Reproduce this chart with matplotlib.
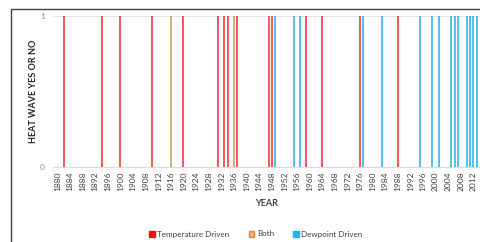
import matplotlib
matplotlib.use("Agg")
import matplotlib.pyplot as plt
from matplotlib.patches import Patch, Rectangle

temp_years = [1882, 1894, 1900, 1910, 1920, 1931, 1933, 1934, 1937, 1947, 1948, 1959, 1964, 1976, 1988]
both_years = [1916, 1936]
dew_years = [1949, 1955, 1957, 1977, 1983, 1995, 1999, 2001, 2005, 2006, 2007, 2010, 2011, 2012, 2013]
tick_years = list(range(1880, 2013, 4))
series_labels = ["Temperature Driven", "Both", "Dewpoint Driven"]

plt.rcParams['font.family'] = ['Lato', 'DejaVu Sans']

fig = plt.figure(figsize=(4.81, 2.42), dpi=100)
fig.patch.set_facecolor('white')
ax = fig.add_axes([53/481, 1-167/242, 1-53/481, (167-15.7)/242])

c_temp = '#F22A2A'
c_both = '#C49A58'
c_dew = '#22B2EA'
lw = 1.1
ax.vlines(temp_years, 0, 1, colors=c_temp, linewidth=lw, zorder=3)
ax.vlines(both_years, 0, 1, colors=c_both, linewidth=lw, zorder=3)
ax.vlines(dew_years, 0, 1, colors=c_dew, linewidth=lw, zorder=3)

ax.set_xlim(1878.6, 2014.4)
ax.set_ylim(0, 1)
ax.set_yticks([0, 1])
ax.set_yticklabels(['0', '1'], fontsize=6, color='#8C8C8C')
ax.set_xticks(tick_years)
ax.set_xticklabels([str(y) for y in tick_years], rotation=90, fontsize=6, color='#404040')
ax.tick_params(axis='both', length=0, pad=3)
ax.tick_params(axis='y', pad=6)
for s in ['top', 'right', 'left']:
    ax.spines[s].set_visible(False)
ax.spines['bottom'].set_color('#D9D9D9')
ax.spines['bottom'].set_linewidth(0.8)
ax.axhline(1, color='#E3E3E3', linewidth=0.8, zorder=1)

ax.set_ylabel('HEAT WAVE YES OR NO', fontsize=6.5, fontweight='bold', color='#262626', labelpad=1)
ax.set_xlabel('YEAR', fontsize=6.5, fontweight='bold', color='#404040', labelpad=6)

handles = [Patch(facecolor='#F01010', edgecolor='#F01010'),
           Patch(facecolor='#F2B07A', edgecolor='#E08A45'),
           Patch(facecolor='#1EB4EC', edgecolor='#1EB4EC')]
fig.legend(handles, series_labels, loc='center', bbox_to_anchor=(256/481, 1-234/242),
           ncol=3, frameon=False, fontsize=5.8, handlelength=0.7, handleheight=0.7,
           handletextpad=0.3, columnspacing=2.4, labelcolor='#404040')

fig.add_artist(Rectangle((10.5/481, -0.1), 1.2, 0.1 + (1-8.5/242), transform=fig.transFigure,
                         fill=False, edgecolor='#404040', linewidth=1.0))

fig.savefig('out.png', dpi=100)
